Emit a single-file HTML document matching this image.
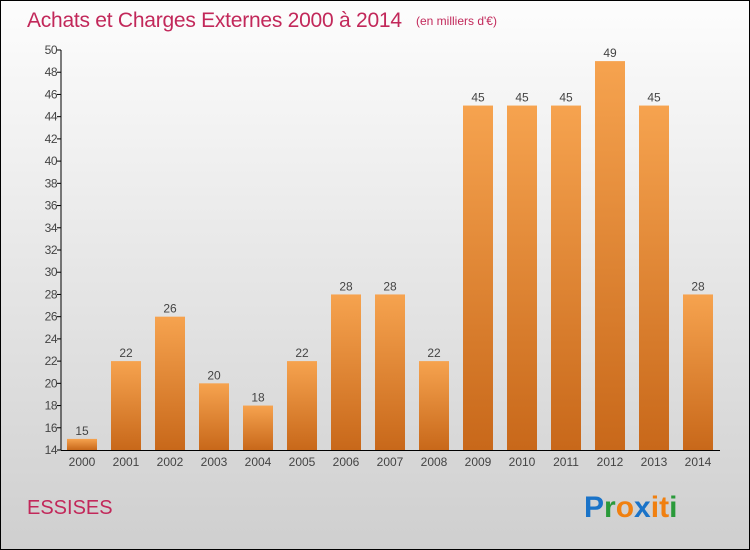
<!DOCTYPE html>
<html><head><meta charset="utf-8"><style>
body{margin:0;width:750px;height:550px;overflow:hidden}
svg{display:block}
text{font-family:"Liberation Sans",sans-serif}
</style></head><body>
<svg id="c" width="750" height="550" xmlns="http://www.w3.org/2000/svg">
<defs>
<linearGradient id="bg" x1="0" y1="0" x2="0" y2="1"><stop offset="0" stop-color="#fdfdfd"/><stop offset="1" stop-color="#cfcfcf"/></linearGradient>
<linearGradient id="bar" x1="0" y1="0" x2="0" y2="1"><stop offset="0" stop-color="#f6a34f"/><stop offset="1" stop-color="#c8681a"/></linearGradient>
</defs>
<rect x="0.5" y="0.5" width="749" height="549" fill="url(#bg)" stroke="#000"/>
<text x="27" y="27" font-size="21" fill="#c2285a" textLength="375">Achats et Charges Externes 2000 à 2014</text>
<text x="416" y="25" font-size="12" fill="#c2285a">(en milliers d'€)</text>
<text x="27" y="514" font-size="20" fill="#c2285a">ESSISES</text>
<g font-size="30" font-weight="bold">
<text x="584" y="517" fill="#1a73c8">P<tspan fill="#2a9a3a">r</tspan><tspan fill="#f08010">o</tspan><tspan fill="#1a73c8">x</tspan><tspan fill="#f08010">i</tspan><tspan fill="#f08010">t</tspan><tspan fill="#2a9a3a">i</tspan></text>
</g>
<g id="plot"></g>
</svg>
<script>
const categories=["2000","2001","2002","2003","2004","2005","2006","2007","2008","2009","2010","2011","2012","2013","2014"];
const values=[15,22,26,20,18,22,28,28,22,45,45,45,49,45,28];
const yTicks=[14,16,18,20,22,24,26,28,30,32,34,36,38,40,42,44,46,48,50];
const yMin=14,yMax=50,plotTop=50,plotBot=450,axisX=61;
const y=v=>plotBot-(v-yMin)/(yMax-yMin)*(plotBot-plotTop);
const x=i=>82+i*44;
const g=document.getElementById('plot');
const NS="http://www.w3.org/2000/svg";
function mk(t,a){const e=document.createElementNS(NS,t);for(const k in a)e.setAttribute(k,a[k]);g.appendChild(e);return e;}
values.forEach((v,i)=>{
 const r=mk('rect',{x:x(i)-15,y:y(v),width:30,height:plotBot-y(v),fill:'url(#bar)'});
 
 
 const t=mk('text',{x:x(i),y:y(v)-4,'font-size':12,fill:'#444','text-anchor':'middle'});t.textContent=v;
 
 
 const c=mk('text',{x:x(i),y:plotBot+16,'font-size':12,fill:'#444','text-anchor':'middle'});c.textContent=categories[i];
 
 
});
yTicks.forEach(v=>{
 const l=mk('line',{x1:axisX-4,x2:axisX,y1:y(v),y2:y(v),stroke:'#000'});
 
 
 const t=mk('text',{x:axisX-4,y:y(v)+4,'font-size':12,fill:'#444','text-anchor':'end','letter-spacing':'-0.5'});t.textContent=v;
 
 
});
const ya=mk('line',{x1:axisX,x2:axisX,y1:plotTop,y2:plotBot,stroke:'#000'});


const xa=mk('line',{x1:axisX,x2:720,y1:plotBot+0.5,y2:plotBot+0.5,stroke:'#000'});


</script>
</body></html>
